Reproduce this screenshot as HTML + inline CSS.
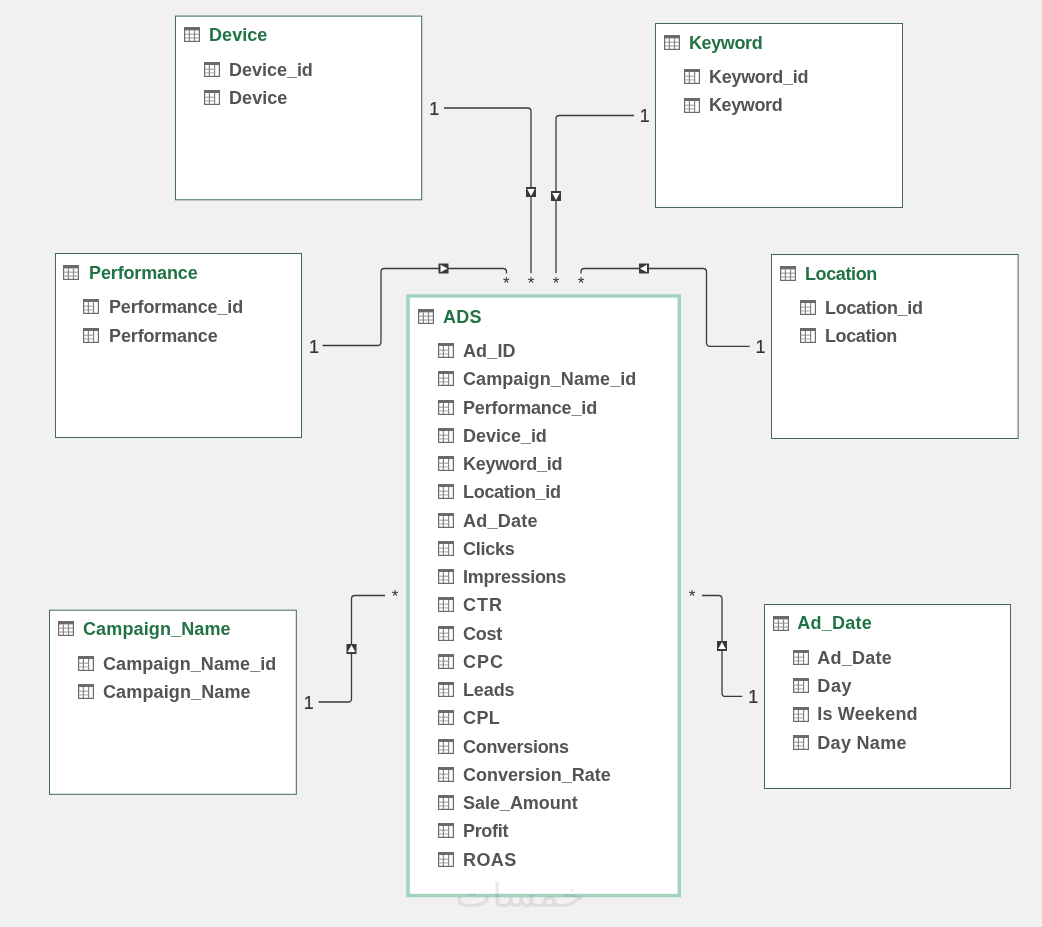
<!DOCTYPE html>
<html lang="en">
<head>
<meta charset="utf-8">
<title>Diagram View</title>
<style>

html,body{margin:0;padding:0;}
body{width:1042px;height:927px;background:#f1f1f1;position:relative;overflow:hidden;
 font-family:"Liberation Sans",sans-serif;font-weight:bold;font-size:18px;}
#stage{position:absolute;left:0;top:0;width:1042px;height:927px;overflow:hidden;will-change:transform;}
.t,.f{position:absolute;white-space:nowrap;line-height:20px;height:20px;}
.t{color:#217346;}
.f{color:#545454;}
.ib{position:absolute;width:16px;height:15px;}
.ic{position:absolute;left:0;top:0;display:block;}
.lbl{position:absolute;font-weight:normal;color:#333;-webkit-text-stroke:0.2px #333;font-size:18px;line-height:20px;height:20px;width:20px;text-align:center;}
.star{position:absolute;font-weight:normal;color:#333;font-size:17px;line-height:20px;height:20px;width:20px;text-align:center;}
#wires,#boxes{position:absolute;left:0;top:0;}
.wm{position:absolute;left:440px;top:866px;width:160px;height:50px;line-height:50px;text-align:center;
 font-family:"Liberation Sans","DejaVu Sans",sans-serif;font-weight:normal;font-size:39px;color:#696969;opacity:0.13;direction:rtl;
 transform-origin:50% 37px;transform:translateY(3.5px) scaleY(0.85);}

</style>
</head>
<body>
<div id="stage">
<svg id="boxes" width="1042" height="927" viewBox="0 0 1042 927">
<rect x="175.50" y="16.10" width="246.20" height="183.70" fill="#fff" stroke="#3f6855" stroke-width="1"/>
<rect x="655.50" y="23.50" width="247.00" height="184.00" fill="#fff" stroke="#3f6855" stroke-width="1"/>
<rect x="55.50" y="253.50" width="246.00" height="184.00" fill="#fff" stroke="#3f6855" stroke-width="1"/>
<rect x="771.50" y="254.50" width="246.60" height="184.00" fill="#fff" stroke="#3f6855" stroke-width="1"/>
<rect x="49.50" y="610.20" width="246.80" height="184.10" fill="#fff" stroke="#3f6855" stroke-width="1"/>
<rect x="764.50" y="604.50" width="246.00" height="184.00" fill="#fff" stroke="#3f6855" stroke-width="1"/>
<rect x="408.05" y="295.95" width="271.20" height="599.60" fill="#fff" stroke="#a2d4bc" stroke-width="3.5"/>
</svg>
<div class="ib" style="left:184px;top:27px"><svg class="ic" width="16" height="15" viewBox="0 0 16 15"><rect x="0.6" y="0.6" width="14.8" height="13.8" fill="#fff" stroke="#6a6a6a" stroke-width="1.2"/><rect x="0" y="0" width="16" height="3.4" fill="#6a6a6a"/><path d="M1 7.3H15M1 10.9H15" stroke="#b8b8b8" stroke-width="1.5" fill="none"/><path d="M5.4 3.4V14M10.5 3.4V14" stroke="#868686" stroke-width="1.2" fill="none"/></svg></div>
<div class="t" style="left:209px;top:25px;letter-spacing:0.06px">Device</div>
<div class="ib" style="left:204px;top:62.00px"><svg class="ic" width="16" height="15" viewBox="0 0 16 15"><rect x="0.6" y="0.6" width="14.8" height="13.8" fill="#fff" stroke="#6a6a6a" stroke-width="1.2"/><rect x="0" y="0" width="16" height="3" fill="#6a6a6a"/><path d="M1 7.3H10.5M1 10.9H10.5" stroke="#b8b8b8" stroke-width="1.4" fill="none"/><path d="M5.4 3V14M10.6 3V14" stroke="#868686" stroke-width="1.2" fill="none"/></svg></div>
<div class="f" style="left:229px;top:60px;letter-spacing:-0.025px">Device_id</div>
<div class="ib" style="left:204px;top:90.40px"><svg class="ic" width="16" height="15" viewBox="0 0 16 15"><rect x="0.6" y="0.6" width="14.8" height="13.8" fill="#fff" stroke="#6a6a6a" stroke-width="1.2"/><rect x="0" y="0" width="16" height="3" fill="#6a6a6a"/><path d="M1 7.3H10.5M1 10.9H10.5" stroke="#b8b8b8" stroke-width="1.4" fill="none"/><path d="M5.4 3V14M10.6 3V14" stroke="#868686" stroke-width="1.2" fill="none"/></svg></div>
<div class="f" style="left:229px;top:88px;letter-spacing:0.06px">Device</div>
<div class="ib" style="left:664px;top:34.9px"><svg class="ic" width="16" height="15" viewBox="0 0 16 15"><rect x="0.6" y="0.6" width="14.8" height="13.8" fill="#fff" stroke="#6a6a6a" stroke-width="1.2"/><rect x="0" y="0" width="16" height="3.4" fill="#6a6a6a"/><path d="M1 7.3H15M1 10.9H15" stroke="#b8b8b8" stroke-width="1.5" fill="none"/><path d="M5.4 3.4V14M10.5 3.4V14" stroke="#868686" stroke-width="1.2" fill="none"/></svg></div>
<div class="t" style="left:689px;top:33px;letter-spacing:-0.383px">Keyword</div>
<div class="ib" style="left:684px;top:69.20px"><svg class="ic" width="16" height="15" viewBox="0 0 16 15"><rect x="0.6" y="0.6" width="14.8" height="13.8" fill="#fff" stroke="#6a6a6a" stroke-width="1.2"/><rect x="0" y="0" width="16" height="3" fill="#6a6a6a"/><path d="M1 7.3H10.5M1 10.9H10.5" stroke="#b8b8b8" stroke-width="1.4" fill="none"/><path d="M5.4 3V14M10.6 3V14" stroke="#868686" stroke-width="1.2" fill="none"/></svg></div>
<div class="f" style="left:709px;top:67px;letter-spacing:-0.289px">Keyword_id</div>
<div class="ib" style="left:684px;top:97.80px"><svg class="ic" width="16" height="15" viewBox="0 0 16 15"><rect x="0.6" y="0.6" width="14.8" height="13.8" fill="#fff" stroke="#6a6a6a" stroke-width="1.2"/><rect x="0" y="0" width="16" height="3" fill="#6a6a6a"/><path d="M1 7.3H10.5M1 10.9H10.5" stroke="#b8b8b8" stroke-width="1.4" fill="none"/><path d="M5.4 3V14M10.6 3V14" stroke="#868686" stroke-width="1.2" fill="none"/></svg></div>
<div class="f" style="left:709px;top:95px;letter-spacing:-0.383px">Keyword</div>
<div class="ib" style="left:63.2px;top:264.9px"><svg class="ic" width="16" height="15" viewBox="0 0 16 15"><rect x="0.6" y="0.6" width="14.8" height="13.8" fill="#fff" stroke="#6a6a6a" stroke-width="1.2"/><rect x="0" y="0" width="16" height="3.4" fill="#6a6a6a"/><path d="M1 7.3H15M1 10.9H15" stroke="#b8b8b8" stroke-width="1.5" fill="none"/><path d="M5.4 3.4V14M10.5 3.4V14" stroke="#868686" stroke-width="1.2" fill="none"/></svg></div>
<div class="t" style="left:89px;top:263px;letter-spacing:-0.13px">Performance</div>
<div class="ib" style="left:83.2px;top:299.20px"><svg class="ic" width="16" height="15" viewBox="0 0 16 15"><rect x="0.6" y="0.6" width="14.8" height="13.8" fill="#fff" stroke="#6a6a6a" stroke-width="1.2"/><rect x="0" y="0" width="16" height="3" fill="#6a6a6a"/><path d="M1 7.3H10.5M1 10.9H10.5" stroke="#b8b8b8" stroke-width="1.4" fill="none"/><path d="M5.4 3V14M10.6 3V14" stroke="#868686" stroke-width="1.2" fill="none"/></svg></div>
<div class="f" style="left:109px;top:297px;letter-spacing:-0.146px">Performance_id</div>
<div class="ib" style="left:83.2px;top:327.70px"><svg class="ic" width="16" height="15" viewBox="0 0 16 15"><rect x="0.6" y="0.6" width="14.8" height="13.8" fill="#fff" stroke="#6a6a6a" stroke-width="1.2"/><rect x="0" y="0" width="16" height="3" fill="#6a6a6a"/><path d="M1 7.3H10.5M1 10.9H10.5" stroke="#b8b8b8" stroke-width="1.4" fill="none"/><path d="M5.4 3V14M10.6 3V14" stroke="#868686" stroke-width="1.2" fill="none"/></svg></div>
<div class="f" style="left:109px;top:326px;letter-spacing:-0.13px">Performance</div>
<div class="ib" style="left:780px;top:265.8px"><svg class="ic" width="16" height="15" viewBox="0 0 16 15"><rect x="0.6" y="0.6" width="14.8" height="13.8" fill="#fff" stroke="#6a6a6a" stroke-width="1.2"/><rect x="0" y="0" width="16" height="3.4" fill="#6a6a6a"/><path d="M1 7.3H15M1 10.9H15" stroke="#b8b8b8" stroke-width="1.5" fill="none"/><path d="M5.4 3.4V14M10.5 3.4V14" stroke="#868686" stroke-width="1.2" fill="none"/></svg></div>
<div class="t" style="left:805px;top:264px;letter-spacing:-0.386px">Location</div>
<div class="ib" style="left:800px;top:300.10px"><svg class="ic" width="16" height="15" viewBox="0 0 16 15"><rect x="0.6" y="0.6" width="14.8" height="13.8" fill="#fff" stroke="#6a6a6a" stroke-width="1.2"/><rect x="0" y="0" width="16" height="3" fill="#6a6a6a"/><path d="M1 7.3H10.5M1 10.9H10.5" stroke="#b8b8b8" stroke-width="1.4" fill="none"/><path d="M5.4 3V14M10.6 3V14" stroke="#868686" stroke-width="1.2" fill="none"/></svg></div>
<div class="f" style="left:825px;top:298px;letter-spacing:-0.3px">Location_id</div>
<div class="ib" style="left:800px;top:328.30px"><svg class="ic" width="16" height="15" viewBox="0 0 16 15"><rect x="0.6" y="0.6" width="14.8" height="13.8" fill="#fff" stroke="#6a6a6a" stroke-width="1.2"/><rect x="0" y="0" width="16" height="3" fill="#6a6a6a"/><path d="M1 7.3H10.5M1 10.9H10.5" stroke="#b8b8b8" stroke-width="1.4" fill="none"/><path d="M5.4 3V14M10.6 3V14" stroke="#868686" stroke-width="1.2" fill="none"/></svg></div>
<div class="f" style="left:825px;top:326px;letter-spacing:-0.386px">Location</div>
<div class="ib" style="left:58.15px;top:621.3px"><svg class="ic" width="16" height="15" viewBox="0 0 16 15"><rect x="0.6" y="0.6" width="14.8" height="13.8" fill="#fff" stroke="#6a6a6a" stroke-width="1.2"/><rect x="0" y="0" width="16" height="3.4" fill="#6a6a6a"/><path d="M1 7.3H15M1 10.9H15" stroke="#b8b8b8" stroke-width="1.5" fill="none"/><path d="M5.4 3.4V14M10.5 3.4V14" stroke="#868686" stroke-width="1.2" fill="none"/></svg></div>
<div class="t" style="left:83px;top:619px;letter-spacing:0.125px">Campaign_Name</div>
<div class="ib" style="left:78.15px;top:656.20px"><svg class="ic" width="16" height="15" viewBox="0 0 16 15"><rect x="0.6" y="0.6" width="14.8" height="13.8" fill="#fff" stroke="#6a6a6a" stroke-width="1.2"/><rect x="0" y="0" width="16" height="3" fill="#6a6a6a"/><path d="M1 7.3H10.5M1 10.9H10.5" stroke="#b8b8b8" stroke-width="1.4" fill="none"/><path d="M5.4 3V14M10.6 3V14" stroke="#868686" stroke-width="1.2" fill="none"/></svg></div>
<div class="f" style="left:103px;top:654px;letter-spacing:0.087px">Campaign_Name_id</div>
<div class="ib" style="left:78.15px;top:684.10px"><svg class="ic" width="16" height="15" viewBox="0 0 16 15"><rect x="0.6" y="0.6" width="14.8" height="13.8" fill="#fff" stroke="#6a6a6a" stroke-width="1.2"/><rect x="0" y="0" width="16" height="3" fill="#6a6a6a"/><path d="M1 7.3H10.5M1 10.9H10.5" stroke="#b8b8b8" stroke-width="1.4" fill="none"/><path d="M5.4 3V14M10.6 3V14" stroke="#868686" stroke-width="1.2" fill="none"/></svg></div>
<div class="f" style="left:103px;top:682px;letter-spacing:0.125px">Campaign_Name</div>
<div class="ib" style="left:772.7px;top:615.5px"><svg class="ic" width="16" height="15" viewBox="0 0 16 15"><rect x="0.6" y="0.6" width="14.8" height="13.8" fill="#fff" stroke="#6a6a6a" stroke-width="1.2"/><rect x="0" y="0" width="16" height="3.4" fill="#6a6a6a"/><path d="M1 7.3H15M1 10.9H15" stroke="#b8b8b8" stroke-width="1.5" fill="none"/><path d="M5.4 3.4V14M10.5 3.4V14" stroke="#868686" stroke-width="1.2" fill="none"/></svg></div>
<div class="t" style="left:797.3px;top:613px;letter-spacing:0.233px">Ad_Date</div>
<div class="ib" style="left:792.7px;top:650.10px"><svg class="ic" width="16" height="15" viewBox="0 0 16 15"><rect x="0.6" y="0.6" width="14.8" height="13.8" fill="#fff" stroke="#6a6a6a" stroke-width="1.2"/><rect x="0" y="0" width="16" height="3" fill="#6a6a6a"/><path d="M1 7.3H10.5M1 10.9H10.5" stroke="#b8b8b8" stroke-width="1.4" fill="none"/><path d="M5.4 3V14M10.6 3V14" stroke="#868686" stroke-width="1.2" fill="none"/></svg></div>
<div class="f" style="left:817.3px;top:648px;letter-spacing:0.233px">Ad_Date</div>
<div class="ib" style="left:792.7px;top:678.30px"><svg class="ic" width="16" height="15" viewBox="0 0 16 15"><rect x="0.6" y="0.6" width="14.8" height="13.8" fill="#fff" stroke="#6a6a6a" stroke-width="1.2"/><rect x="0" y="0" width="16" height="3" fill="#6a6a6a"/><path d="M1 7.3H10.5M1 10.9H10.5" stroke="#b8b8b8" stroke-width="1.4" fill="none"/><path d="M5.4 3V14M10.6 3V14" stroke="#868686" stroke-width="1.2" fill="none"/></svg></div>
<div class="f" style="left:817.3px;top:676px;letter-spacing:0.65px">Day</div>
<div class="ib" style="left:792.7px;top:706.70px"><svg class="ic" width="16" height="15" viewBox="0 0 16 15"><rect x="0.6" y="0.6" width="14.8" height="13.8" fill="#fff" stroke="#6a6a6a" stroke-width="1.2"/><rect x="0" y="0" width="16" height="3" fill="#6a6a6a"/><path d="M1 7.3H10.5M1 10.9H10.5" stroke="#b8b8b8" stroke-width="1.4" fill="none"/><path d="M5.4 3V14M10.6 3V14" stroke="#868686" stroke-width="1.2" fill="none"/></svg></div>
<div class="f" style="left:817.3px;top:704px;letter-spacing:0.178px">Is Weekend</div>
<div class="ib" style="left:792.7px;top:735.00px"><svg class="ic" width="16" height="15" viewBox="0 0 16 15"><rect x="0.6" y="0.6" width="14.8" height="13.8" fill="#fff" stroke="#6a6a6a" stroke-width="1.2"/><rect x="0" y="0" width="16" height="3" fill="#6a6a6a"/><path d="M1 7.3H10.5M1 10.9H10.5" stroke="#b8b8b8" stroke-width="1.4" fill="none"/><path d="M5.4 3V14M10.6 3V14" stroke="#868686" stroke-width="1.2" fill="none"/></svg></div>
<div class="f" style="left:817.3px;top:733px;letter-spacing:0.3px">Day Name</div>
<div class="ib" style="left:418px;top:308.5px"><svg class="ic" width="16" height="15" viewBox="0 0 16 15"><rect x="0.6" y="0.6" width="14.8" height="13.8" fill="#fff" stroke="#6a6a6a" stroke-width="1.2"/><rect x="0" y="0" width="16" height="3.4" fill="#6a6a6a"/><path d="M1 7.3H15M1 10.9H15" stroke="#b8b8b8" stroke-width="1.5" fill="none"/><path d="M5.4 3.4V14M10.5 3.4V14" stroke="#868686" stroke-width="1.2" fill="none"/></svg></div>
<div class="t" style="left:443px;top:307px;letter-spacing:0.25px">ADS</div>
<div class="ib" style="left:438px;top:343.00px"><svg class="ic" width="16" height="15" viewBox="0 0 16 15"><rect x="0.6" y="0.6" width="14.8" height="13.8" fill="#fff" stroke="#6a6a6a" stroke-width="1.2"/><rect x="0" y="0" width="16" height="3" fill="#6a6a6a"/><path d="M1 7.3H10.5M1 10.9H10.5" stroke="#b8b8b8" stroke-width="1.4" fill="none"/><path d="M5.4 3V14M10.6 3V14" stroke="#868686" stroke-width="1.2" fill="none"/></svg></div>
<div class="f" style="left:463px;top:341px;letter-spacing:0.125px">Ad_ID</div>
<div class="ib" style="left:438px;top:371.26px"><svg class="ic" width="16" height="15" viewBox="0 0 16 15"><rect x="0.6" y="0.6" width="14.8" height="13.8" fill="#fff" stroke="#6a6a6a" stroke-width="1.2"/><rect x="0" y="0" width="16" height="3" fill="#6a6a6a"/><path d="M1 7.3H10.5M1 10.9H10.5" stroke="#b8b8b8" stroke-width="1.4" fill="none"/><path d="M5.4 3V14M10.6 3V14" stroke="#868686" stroke-width="1.2" fill="none"/></svg></div>
<div class="f" style="left:463px;top:369px;letter-spacing:0.087px">Campaign_Name_id</div>
<div class="ib" style="left:438px;top:399.51px"><svg class="ic" width="16" height="15" viewBox="0 0 16 15"><rect x="0.6" y="0.6" width="14.8" height="13.8" fill="#fff" stroke="#6a6a6a" stroke-width="1.2"/><rect x="0" y="0" width="16" height="3" fill="#6a6a6a"/><path d="M1 7.3H10.5M1 10.9H10.5" stroke="#b8b8b8" stroke-width="1.4" fill="none"/><path d="M5.4 3V14M10.6 3V14" stroke="#868686" stroke-width="1.2" fill="none"/></svg></div>
<div class="f" style="left:463px;top:398px;letter-spacing:-0.146px">Performance_id</div>
<div class="ib" style="left:438px;top:427.77px"><svg class="ic" width="16" height="15" viewBox="0 0 16 15"><rect x="0.6" y="0.6" width="14.8" height="13.8" fill="#fff" stroke="#6a6a6a" stroke-width="1.2"/><rect x="0" y="0" width="16" height="3" fill="#6a6a6a"/><path d="M1 7.3H10.5M1 10.9H10.5" stroke="#b8b8b8" stroke-width="1.4" fill="none"/><path d="M5.4 3V14M10.6 3V14" stroke="#868686" stroke-width="1.2" fill="none"/></svg></div>
<div class="f" style="left:463px;top:426px;letter-spacing:-0.025px">Device_id</div>
<div class="ib" style="left:438px;top:456.02px"><svg class="ic" width="16" height="15" viewBox="0 0 16 15"><rect x="0.6" y="0.6" width="14.8" height="13.8" fill="#fff" stroke="#6a6a6a" stroke-width="1.2"/><rect x="0" y="0" width="16" height="3" fill="#6a6a6a"/><path d="M1 7.3H10.5M1 10.9H10.5" stroke="#b8b8b8" stroke-width="1.4" fill="none"/><path d="M5.4 3V14M10.6 3V14" stroke="#868686" stroke-width="1.2" fill="none"/></svg></div>
<div class="f" style="left:463px;top:454px;letter-spacing:-0.289px">Keyword_id</div>
<div class="ib" style="left:438px;top:484.28px"><svg class="ic" width="16" height="15" viewBox="0 0 16 15"><rect x="0.6" y="0.6" width="14.8" height="13.8" fill="#fff" stroke="#6a6a6a" stroke-width="1.2"/><rect x="0" y="0" width="16" height="3" fill="#6a6a6a"/><path d="M1 7.3H10.5M1 10.9H10.5" stroke="#b8b8b8" stroke-width="1.4" fill="none"/><path d="M5.4 3V14M10.6 3V14" stroke="#868686" stroke-width="1.2" fill="none"/></svg></div>
<div class="f" style="left:463px;top:482px;letter-spacing:-0.3px">Location_id</div>
<div class="ib" style="left:438px;top:512.54px"><svg class="ic" width="16" height="15" viewBox="0 0 16 15"><rect x="0.6" y="0.6" width="14.8" height="13.8" fill="#fff" stroke="#6a6a6a" stroke-width="1.2"/><rect x="0" y="0" width="16" height="3" fill="#6a6a6a"/><path d="M1 7.3H10.5M1 10.9H10.5" stroke="#b8b8b8" stroke-width="1.4" fill="none"/><path d="M5.4 3V14M10.6 3V14" stroke="#868686" stroke-width="1.2" fill="none"/></svg></div>
<div class="f" style="left:463px;top:511px;letter-spacing:0.233px">Ad_Date</div>
<div class="ib" style="left:438px;top:540.79px"><svg class="ic" width="16" height="15" viewBox="0 0 16 15"><rect x="0.6" y="0.6" width="14.8" height="13.8" fill="#fff" stroke="#6a6a6a" stroke-width="1.2"/><rect x="0" y="0" width="16" height="3" fill="#6a6a6a"/><path d="M1 7.3H10.5M1 10.9H10.5" stroke="#b8b8b8" stroke-width="1.4" fill="none"/><path d="M5.4 3V14M10.6 3V14" stroke="#868686" stroke-width="1.2" fill="none"/></svg></div>
<div class="f" style="left:463px;top:539px;letter-spacing:-0.26px">Clicks</div>
<div class="ib" style="left:438px;top:569.05px"><svg class="ic" width="16" height="15" viewBox="0 0 16 15"><rect x="0.6" y="0.6" width="14.8" height="13.8" fill="#fff" stroke="#6a6a6a" stroke-width="1.2"/><rect x="0" y="0" width="16" height="3" fill="#6a6a6a"/><path d="M1 7.3H10.5M1 10.9H10.5" stroke="#b8b8b8" stroke-width="1.4" fill="none"/><path d="M5.4 3V14M10.6 3V14" stroke="#868686" stroke-width="1.2" fill="none"/></svg></div>
<div class="f" style="left:463px;top:567px;letter-spacing:-0.27px">Impressions</div>
<div class="ib" style="left:438px;top:597.30px"><svg class="ic" width="16" height="15" viewBox="0 0 16 15"><rect x="0.6" y="0.6" width="14.8" height="13.8" fill="#fff" stroke="#6a6a6a" stroke-width="1.2"/><rect x="0" y="0" width="16" height="3" fill="#6a6a6a"/><path d="M1 7.3H10.5M1 10.9H10.5" stroke="#b8b8b8" stroke-width="1.4" fill="none"/><path d="M5.4 3V14M10.6 3V14" stroke="#868686" stroke-width="1.2" fill="none"/></svg></div>
<div class="f" style="left:463px;top:595px;letter-spacing:0.95px">CTR</div>
<div class="ib" style="left:438px;top:625.56px"><svg class="ic" width="16" height="15" viewBox="0 0 16 15"><rect x="0.6" y="0.6" width="14.8" height="13.8" fill="#fff" stroke="#6a6a6a" stroke-width="1.2"/><rect x="0" y="0" width="16" height="3" fill="#6a6a6a"/><path d="M1 7.3H10.5M1 10.9H10.5" stroke="#b8b8b8" stroke-width="1.4" fill="none"/><path d="M5.4 3V14M10.6 3V14" stroke="#868686" stroke-width="1.2" fill="none"/></svg></div>
<div class="f" style="left:463px;top:624px;letter-spacing:-0.267px">Cost</div>
<div class="ib" style="left:438px;top:653.82px"><svg class="ic" width="16" height="15" viewBox="0 0 16 15"><rect x="0.6" y="0.6" width="14.8" height="13.8" fill="#fff" stroke="#6a6a6a" stroke-width="1.2"/><rect x="0" y="0" width="16" height="3" fill="#6a6a6a"/><path d="M1 7.3H10.5M1 10.9H10.5" stroke="#b8b8b8" stroke-width="1.4" fill="none"/><path d="M5.4 3V14M10.6 3V14" stroke="#868686" stroke-width="1.2" fill="none"/></svg></div>
<div class="f" style="left:463px;top:652px;letter-spacing:0.95px">CPC</div>
<div class="ib" style="left:438px;top:682.07px"><svg class="ic" width="16" height="15" viewBox="0 0 16 15"><rect x="0.6" y="0.6" width="14.8" height="13.8" fill="#fff" stroke="#6a6a6a" stroke-width="1.2"/><rect x="0" y="0" width="16" height="3" fill="#6a6a6a"/><path d="M1 7.3H10.5M1 10.9H10.5" stroke="#b8b8b8" stroke-width="1.4" fill="none"/><path d="M5.4 3V14M10.6 3V14" stroke="#868686" stroke-width="1.2" fill="none"/></svg></div>
<div class="f" style="left:463px;top:680px;letter-spacing:-0.125px">Leads</div>
<div class="ib" style="left:438px;top:710.33px"><svg class="ic" width="16" height="15" viewBox="0 0 16 15"><rect x="0.6" y="0.6" width="14.8" height="13.8" fill="#fff" stroke="#6a6a6a" stroke-width="1.2"/><rect x="0" y="0" width="16" height="3" fill="#6a6a6a"/><path d="M1 7.3H10.5M1 10.9H10.5" stroke="#b8b8b8" stroke-width="1.4" fill="none"/><path d="M5.4 3V14M10.6 3V14" stroke="#868686" stroke-width="1.2" fill="none"/></svg></div>
<div class="f" style="left:463px;top:708px;letter-spacing:0.4px">CPL</div>
<div class="ib" style="left:438px;top:738.58px"><svg class="ic" width="16" height="15" viewBox="0 0 16 15"><rect x="0.6" y="0.6" width="14.8" height="13.8" fill="#fff" stroke="#6a6a6a" stroke-width="1.2"/><rect x="0" y="0" width="16" height="3" fill="#6a6a6a"/><path d="M1 7.3H10.5M1 10.9H10.5" stroke="#b8b8b8" stroke-width="1.4" fill="none"/><path d="M5.4 3V14M10.6 3V14" stroke="#868686" stroke-width="1.2" fill="none"/></svg></div>
<div class="f" style="left:463px;top:737px;letter-spacing:-0.3px">Conversions</div>
<div class="ib" style="left:438px;top:766.84px"><svg class="ic" width="16" height="15" viewBox="0 0 16 15"><rect x="0.6" y="0.6" width="14.8" height="13.8" fill="#fff" stroke="#6a6a6a" stroke-width="1.2"/><rect x="0" y="0" width="16" height="3" fill="#6a6a6a"/><path d="M1 7.3H10.5M1 10.9H10.5" stroke="#b8b8b8" stroke-width="1.4" fill="none"/><path d="M5.4 3V14M10.6 3V14" stroke="#868686" stroke-width="1.2" fill="none"/></svg></div>
<div class="f" style="left:463px;top:765px;letter-spacing:-0.021px">Conversion_Rate</div>
<div class="ib" style="left:438px;top:795.10px"><svg class="ic" width="16" height="15" viewBox="0 0 16 15"><rect x="0.6" y="0.6" width="14.8" height="13.8" fill="#fff" stroke="#6a6a6a" stroke-width="1.2"/><rect x="0" y="0" width="16" height="3" fill="#6a6a6a"/><path d="M1 7.3H10.5M1 10.9H10.5" stroke="#b8b8b8" stroke-width="1.4" fill="none"/><path d="M5.4 3V14M10.6 3V14" stroke="#868686" stroke-width="1.2" fill="none"/></svg></div>
<div class="f" style="left:463px;top:793px;letter-spacing:-0.03px">Sale_Amount</div>
<div class="ib" style="left:438px;top:823.35px"><svg class="ic" width="16" height="15" viewBox="0 0 16 15"><rect x="0.6" y="0.6" width="14.8" height="13.8" fill="#fff" stroke="#6a6a6a" stroke-width="1.2"/><rect x="0" y="0" width="16" height="3" fill="#6a6a6a"/><path d="M1 7.3H10.5M1 10.9H10.5" stroke="#b8b8b8" stroke-width="1.4" fill="none"/><path d="M5.4 3V14M10.6 3V14" stroke="#868686" stroke-width="1.2" fill="none"/></svg></div>
<div class="f" style="left:463px;top:821px;letter-spacing:-0.32px">Profit</div>
<div class="ib" style="left:438px;top:851.61px"><svg class="ic" width="16" height="15" viewBox="0 0 16 15"><rect x="0.6" y="0.6" width="14.8" height="13.8" fill="#fff" stroke="#6a6a6a" stroke-width="1.2"/><rect x="0" y="0" width="16" height="3" fill="#6a6a6a"/><path d="M1 7.3H10.5M1 10.9H10.5" stroke="#b8b8b8" stroke-width="1.4" fill="none"/><path d="M5.4 3V14M10.6 3V14" stroke="#868686" stroke-width="1.2" fill="none"/></svg></div>
<div class="f" style="left:463px;top:850px;letter-spacing:0.433px">ROAS</div>
<svg id="wires" width="1042" height="927" viewBox="0 0 1042 927">
<path d="M444 108 H527.5 Q531 108 531 111.5 V273.2" fill="none" stroke="#3a3a3a" stroke-width="1.3"/>
<rect x="526" y="187" width="10" height="10" fill="#3a3a3a"/><polygon points="527.2,189.0 534.8,189.0 531,196.0" fill="#fff"/>
<path d="M634 115.5 H559.5 Q556 115.5 556 119.0 V273.2" fill="none" stroke="#3a3a3a" stroke-width="1.3"/>
<rect x="551" y="191" width="10" height="10" fill="#3a3a3a"/><polygon points="552.2,193.0 559.8,193.0 556,200.0" fill="#fff"/>
<path d="M322.5 345.5 H377.5 Q381 345.5 381 342.0 V272.0 Q381 268.5 384.5 268.5 H503.0 Q506.5 268.5 506.5 272.0 V273.4" fill="none" stroke="#3a3a3a" stroke-width="1.3"/>
<rect x="438.5" y="263.5" width="10" height="10" fill="#3a3a3a"/><polygon points="440.5,264.7 440.5,272.3 447.5,268.5" fill="#fff"/>
<path d="M749.7 346.3 H710.0 Q706.5 346.3 706.5 342.8 V272.0 Q706.5 268.5 703.0 268.5 H584.5 Q581 268.5 581 272.0 V273.4" fill="none" stroke="#3a3a3a" stroke-width="1.3"/>
<rect x="639" y="263.5" width="10" height="10" fill="#3a3a3a"/><polygon points="647.0,264.7 647.0,272.3 640.0,268.5" fill="#fff"/>
<path d="M318.5 702 H348.0 Q351.5 702 351.5 698.5 V599.0 Q351.5 595.5 355.0 595.5 H385" fill="none" stroke="#3a3a3a" stroke-width="1.3"/>
<rect x="346.5" y="644" width="10" height="10" fill="#3a3a3a"/><polygon points="347.7,652.0 355.3,652.0 351.5,645.0" fill="#fff"/>
<path d="M742.3 696.4 H725.5 Q722 696.4 722 692.9 V599.0 Q722 595.5 718.5 595.5 H702" fill="none" stroke="#3a3a3a" stroke-width="1.3"/>
<rect x="717" y="641" width="10" height="10" fill="#3a3a3a"/><polygon points="718.2,649.0 725.8,649.0 722,642.0" fill="#fff"/>
</svg>
<div class="lbl" style="left:424.2px;top:99px">1</div>
<div class="lbl" style="left:634.7px;top:106px">1</div>
<div class="lbl" style="left:304.1px;top:337px">1</div>
<div class="lbl" style="left:750.6px;top:337px">1</div>
<div class="lbl" style="left:298.7px;top:693px">1</div>
<div class="lbl" style="left:743.2px;top:687px">1</div>
<div class="star" style="left:496.2px;top:274px">*</div>
<div class="star" style="left:521px;top:274px">*</div>
<div class="star" style="left:546px;top:274px">*</div>
<div class="star" style="left:571px;top:274px">*</div>
<div class="star" style="left:385px;top:587.3px">*</div>
<div class="star" style="left:682px;top:587.3px">*</div>
<div class="wm">خمسات</div>
</div>
</body>
</html>
